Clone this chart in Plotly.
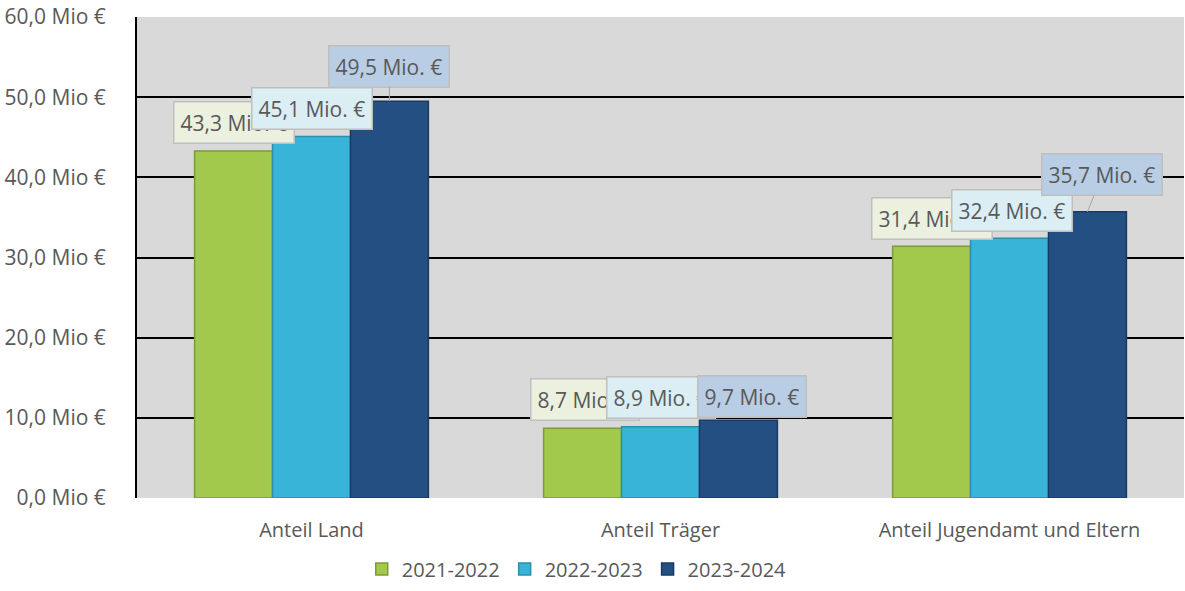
import plotly.graph_objects as go

# Data
categories = ["Anteil Land", "Anteil Träger", "Anteil Jugendamt und Eltern"]
series_names = ["2021-2022", "2022-2023", "2023-2024"]
values_2122 = [43.3, 8.7, 31.4]
values_2223 = [45.1, 8.9, 32.4]
values_2324 = [49.5, 9.7, 35.7]
y_ticks = [0, 10, 20, 30, 40, 50, 60]
y_tick_labels = ["0,0 Mio €", "10,0 Mio €", "20,0 Mio €", "30,0 Mio €",
                 "40,0 Mio €", "50,0 Mio €", "60,0 Mio €"]

bar_colors = ["#a2c94b", "#38b4d8", "#244f82"]
bar_edges = ["#7d9c35", "#2a8fad", "#183a63"]
label_fills = ["#ebf1de", "#dbeef4", "#b9cde5"]
FONT = "Open Sans"
TEXT = "#595959"

all_values = [values_2122, values_2223, values_2324]

fig = go.Figure()

for name, vals, col, edge in zip(series_names, all_values, bar_colors, bar_edges):
    fig.add_trace(go.Bar(
        x=categories, y=vals, name=name,
        marker=dict(color=col, line=dict(color=edge, width=1.5)),
    ))

# Data labels (callout boxes)
bargap = 0.33
step = (1 - bargap) / 3
# manual nudges (px, up is positive) to mimic Excel's label placement
label_dx = [[0, 0, 0], [2, 0, 14], [0, 2, 15]]
label_dy = [[28, 28, 35], [29, 29, 24], [28, 28, 37]]
for s, vals in enumerate(all_values):
    for i, v in enumerate(vals):
        leader = (s == 2 and i != 1)
        txt = f"{v:.1f}".replace(".", ",") + " Mio. €"
        fig.add_annotation(
            x=i + (s - 1) * step, y=v, xref="x", yref="y",
            text=txt, showarrow=leader,
            arrowhead=0, arrowwidth=1, arrowcolor="#a6a6a6",
            ax=label_dx[i][s], ay=-label_dy[i][s],
            axref="pixel", ayref="pixel",
            xshift=0 if leader else label_dx[i][s],
            yshift=0 if leader else label_dy[i][s],
            font=dict(family=FONT, size=21, color=TEXT),
            bgcolor=label_fills[s], bordercolor="#bfbfbf", borderwidth=1.5,
            borderpad=6,
        )

fig.update_layout(
    width=1185, height=591,
    margin=dict(l=137, r=1, t=17, b=93),
    paper_bgcolor="white",
    plot_bgcolor="#d9d9d9",
    barmode="group",
    bargap=bargap,
    bargroupgap=0,
    font=dict(family=FONT, size=20, color=TEXT),
    showlegend=True,
    # legend kept inside the bottom margin so it does not shrink the plot
    legend=dict(orientation="h", x=0.42, xanchor="center", y=-0.188, yanchor="bottom",
                font=dict(size=20, color=TEXT), itemwidth=30, traceorder="normal"),
    xaxis=dict(showline=False, showgrid=False, ticks="", automargin=False,
               ticklabelstandoff=18, tickfont=dict(size=20, color=TEXT)),
    yaxis=dict(range=[0, 60], tickvals=y_ticks, ticktext=y_tick_labels,
               showgrid=True, gridcolor="black", gridwidth=1.5,
               zeroline=False, showline=True, linecolor="black", linewidth=2,
               ticks="", ticklabelstandoff=25, automargin=False,
               tickfont=dict(size=21, color=TEXT)),
)

# drop the default body margin so the figure fills the window exactly
fig.write_html("out.html", config={"displayModeBar": False},
               post_script="document.body.style.margin='0';"
                           "document.body.style.overflow='hidden';")
